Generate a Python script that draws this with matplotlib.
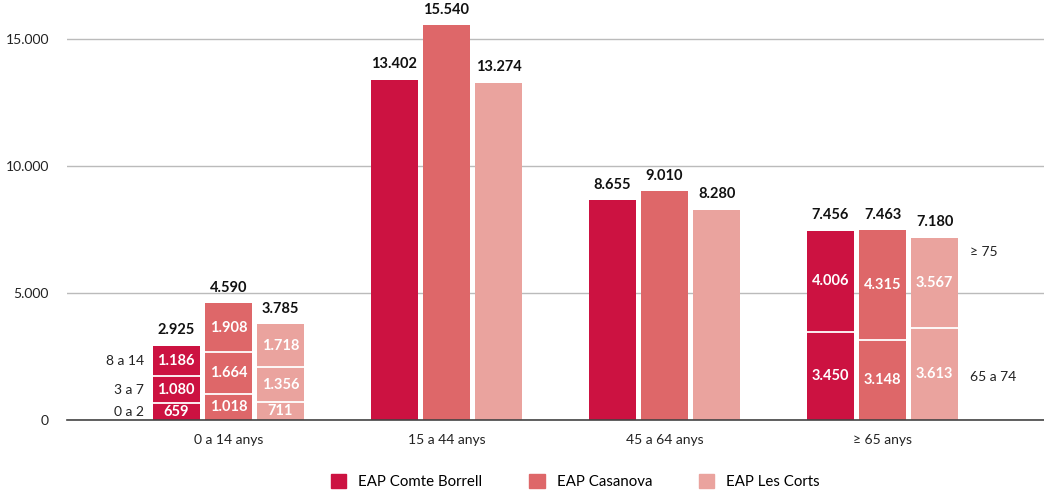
import matplotlib
matplotlib.use('Agg')
import matplotlib.pyplot as plt
import numpy as np

plt.rcParams['font.family'] = ['Lato', 'DejaVu Sans']

groups = ['0 a 14 anys', '15 a 44 anys', '45 a 64 anys', '≥ 65 anys']
centres = ['EAP Comte Borrell', 'EAP Casanova', 'EAP Les Corts']
colors = ['#CC1241', '#DE6769', '#EAA39E']

# segments per group and centre (bottom to top)
segments = {
    'EAP Comte Borrell': [[659, 1080, 1186], [13402], [8655], [3450, 4006]],
    'EAP Casanova':      [[1018, 1664, 1908], [15540], [9010], [3148, 4315]],
    'EAP Les Corts':     [[711, 1356, 1718], [13274], [8280], [3613, 3567]],
}
age_labels_young = ['0 a 2', '3 a 7', '8 a 14']
age_labels_old = ['65 a 74', '≥ 75']


def fmt(v):
    return f'{v:,}'.replace(',', '.')


fig = plt.figure(figsize=(10.44, 4.93), dpi=100)
ax = fig.add_axes([67 / 1044, 73 / 493, 1 - 67 / 1044, 420 / 493])

width = 0.216
step = 0.239
x = np.arange(len(groups))

for j, name in enumerate(centres):
    xs = x + (j - 1) * step
    for i, segs in enumerate(segments[name]):
        bottom = 0
        for k, v in enumerate(segs):
            ax.bar(xs[i], v, width, bottom=bottom, color=colors[j], zorder=3, linewidth=0)
            if len(segs) > 1:
                ax.text(xs[i], bottom + v / 2, fmt(v), ha='center', va='center',
                        color='white', fontsize=10.5, fontweight='bold', zorder=5)
                if k > 0:
                    ax.hlines(bottom, xs[i] - width / 2, xs[i] + width / 2,
                              color='white', lw=1.3, zorder=4)
            bottom += v
        ax.annotate(fmt(bottom), (xs[i], bottom), xytext=(0, 6), textcoords='offset points',
                    ha='center', va='bottom', fontsize=10.5, fontweight='bold', color='#111111')

# age band labels at the sides
cb0 = segments['EAP Comte Borrell'][0]
cum = np.cumsum([0] + cb0)
for k, lab in enumerate(age_labels_young):
    ax.text(x[0] - step - width / 2 - 0.04, (cum[k] + cum[k + 1]) / 2, lab,
            ha='right', va='center', fontsize=10, color='#222222')
ax.text(x[3] + step + width / 2 + 0.055, 1700, age_labels_old[0],
        ha='left', va='center', fontsize=10, color='#222222')
ax.text(x[3] + step + width / 2 + 0.055, 6620, age_labels_old[1],
        ha='left', va='center', fontsize=10, color='#222222')

ax.set_xlim(-0.74, 3.74)
ax.set_ylim(0, 16535)
ax.set_yticks([0, 5000, 10000, 15000])
ax.set_yticklabels([fmt(v) for v in [0, 5000, 10000, 15000]], fontsize=10, color='#222222')
ax.set_xticks(x)
ax.set_xticklabels(groups, fontsize=10, color='#222222')
ax.tick_params(axis='both', length=0)
ax.tick_params(axis='y', pad=13)
ax.tick_params(axis='x', pad=10)
ax.grid(axis='y', color='#BBBBBB', lw=1, zorder=0)
for s in ['top', 'right', 'left']:
    ax.spines[s].set_visible(False)
ax.spines['bottom'].set_color('#444444')
ax.spines['bottom'].set_linewidth(1.2)
ax.spines['bottom'].set_zorder(6)

handles = [plt.Rectangle((0, 0), 1, 1, color=c) for c in colors]
fig.legend(handles, centres, loc='lower left', bbox_to_anchor=(317 / 1044, -0.02), ncol=3,
           frameon=False, fontsize=10.8, handlelength=1.05, handleheight=1.05,
           columnspacing=3.1, handletextpad=0.8)

plt.savefig('out.png', dpi=100)
plt.close()
